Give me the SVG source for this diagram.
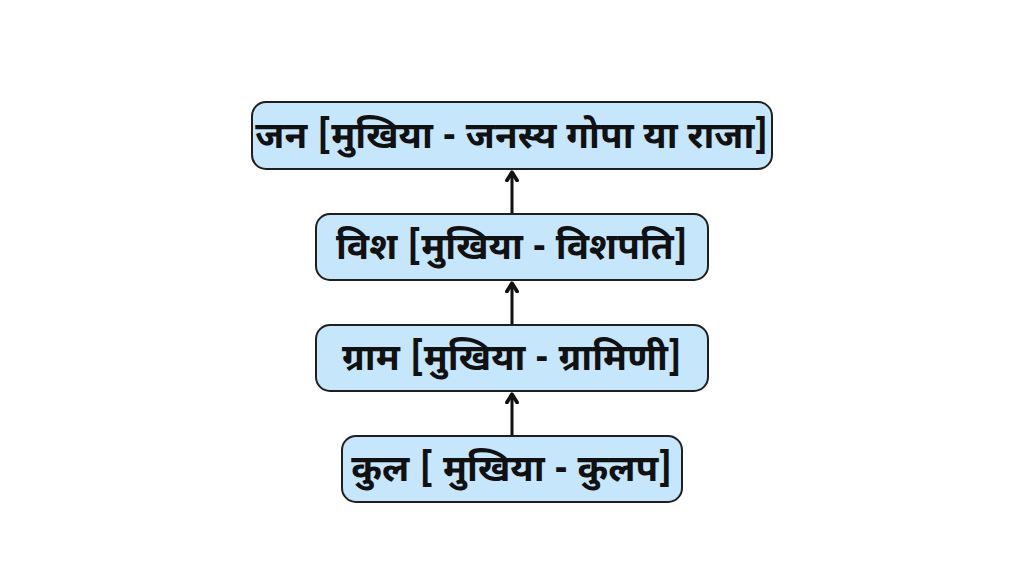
<svg xmlns="http://www.w3.org/2000/svg" width="1024" height="576" viewBox="0 0 1024 576">
<defs>
<style>
.box{fill:#c6e6fc;stroke:#1f1f1f;stroke-width:2}
.lbl{font-family:"Noto Sans Devanagari","Noto Sans","Noto Sans CJK SC",sans-serif;font-weight:bold;font-size:37px;fill:#111;text-anchor:middle;dominant-baseline:central}
.conn{stroke:#111;stroke-width:3;fill:none;marker-end:url(#ah)}
</style>
<marker id="ah" viewBox="0 0 10 10" refX="7" refY="5" markerWidth="4.5" markerHeight="4.5" orient="auto" markerUnits="strokeWidth">
<path d="M1.5,1.2 L7.5,5 L1.5,8.8" fill="none" stroke="#111" stroke-width="2.8" stroke-linecap="round" stroke-linejoin="round"/>
</marker>
</defs>
<rect width="1024" height="576" fill="#ffffff"/>
<g id="connectors">
<line class="conn" x1="512" y1="214" x2="512" y2="173"/>
<line class="conn" x1="512" y1="325" x2="512" y2="284"/>
<line class="conn" x1="512" y1="436" x2="512" y2="395"/>
</g>
<g id="jan">
<rect class="box" x="252" y="102" width="520" height="67" rx="14"/>
<text class="lbl" x="512" y="139">जन [मुखिया - जनस्य गोपा या राजा]</text>
</g>
<g id="vish">
<rect class="box" x="316" y="214" width="392" height="66" rx="14"/>
<text class="lbl" x="512" y="250">विश [मुखिया - विशपति]</text>
</g>
<g id="gram">
<rect class="box" x="316" y="325" width="392" height="66" rx="14"/>
<text class="lbl" x="512" y="361">ग्राम [मुखिया - ग्रामिणी]</text>
</g>
<g id="kul">
<rect class="box" x="342" y="436" width="340" height="66" rx="14"/>
<text class="lbl" x="512" y="472">कुल [ मुखिया - कुलप]</text>
</g>
</svg>
